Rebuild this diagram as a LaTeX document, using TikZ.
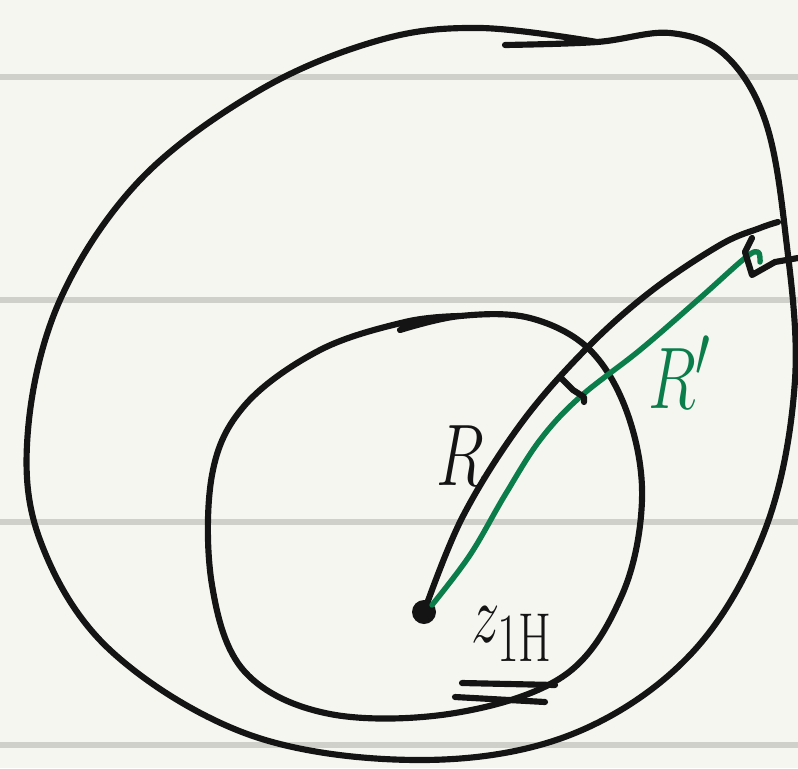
\documentclass[tikz,border=0pt]{standalone}
\usepackage{tikz}
\usepackage{graphicx}
\usetikzlibrary{calc}
\definecolor{paperCream}{RGB}{246,246,241}
\definecolor{ruleGray}{RGB}{208,208,202}
\definecolor{inkBlack}{RGB}{20,20,20}
\definecolor{inkGreen}{RGB}{10,125,75}
\newcommand{\handlabel}[1]{\scalebox{1.45}[2.0]{#1}}

\begin{document}
\begin{tikzpicture}[
    x=0.02cm, y=-0.02cm,
    ink/.style={draw=inkBlack, line width=3.5pt, line cap=round, line join=round},
    greenink/.style={draw=inkGreen, line width=3.1pt, line cap=round, line join=round},
    ruling/.style={draw=ruleGray, line width=3pt},
    every node/.style={font=\fontsize{24.88}{25}\selectfont, inner sep=0pt}
  ]
    % Paper and ruled lines
    \fill[paperCream] (0,0) rectangle (798,768);
    \useasboundingbox (0,0) rectangle (798,768);
    \foreach \y in {77,300,522,745}
      \draw[ruling] (0,\y) -- (798,\y);
    % Outer region
    \draw[ink] plot[smooth, tension=0.6] coordinates {
      (505,45) (597,42) (670,33) (725,55) (765,120) (785,230)
      (795,380) (765,530) (690,655) (570,735) (420,760) (250,735)
      (110,650) (40,540) (28,430) (60,300) (140,180) (260,90)
      (380,40) (480,28) (597,42)};
    % Inner region
    \draw[ink] plot[smooth, tension=0.6] coordinates {
      (400,330) (460,316) (530,318) (590,350) (628,415) (642,500)
      (622,595) (565,675) (455,713) (330,714) (245,672) (212,585)
      (212,475) (245,405) (320,350) (405,322) (460,316)};
    % Centre point
    \coordinate (zc) at (424,612);
    \fill[inkBlack] (zc) circle (12);
    % Radius R
    \coordinate (rend) at (778,222);
    \draw[ink] plot[smooth, tension=0.6] coordinates {
      (zc) (462,518) (520,425) (585,350) (650,292) (720,245) (760,228) (rend)};
    % Radius R'
    \coordinate (rpend) at (758,252);
    \draw[greenink] plot[smooth, tension=0.6] coordinates {
      (432,605) (470,555) (505,495) (540,440) (580,397) (640,350)
      (700,298) (745,258) (rpend) (760,262)};
    % Small marks at the ends of the radii
    \draw[ink] (561,378) -- (573,390) -- (584,397) -- (584,402);
    \draw[ink] (752,238) -- (745,252) -- (752,275) -- (775,262) -- (798,258);
    % Labels
    \node[text=inkBlack] (rlab) at (460,456) {\handlabel{$R$}};
    \node[text=inkGreen] (rplab) at (680,372) {\handlabel{$R'$}};
    \node[text=inkBlack] (zlab) at (512,634) {\scalebox{1.3}[1.9]{$z_{\mathrm{1H}}$}};
    \draw[ink] (462,683) -- (555,685);
    \draw[ink] (455,697) -- (545,702);
\end{tikzpicture}
\end{document}
